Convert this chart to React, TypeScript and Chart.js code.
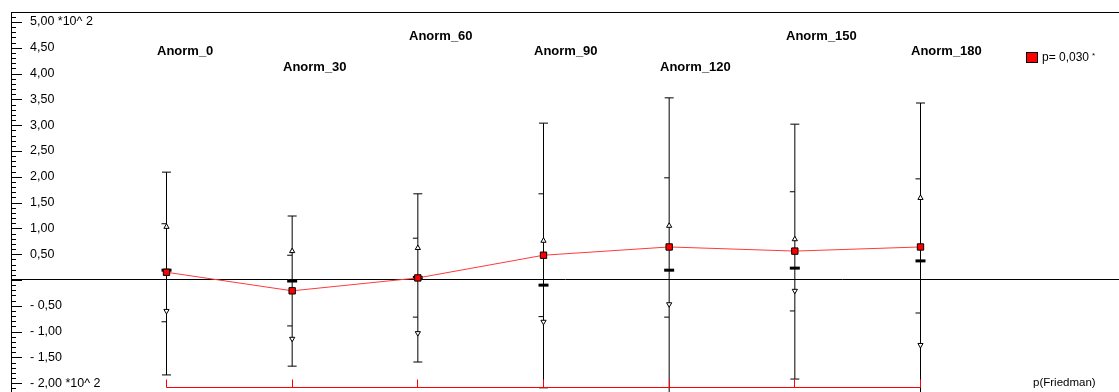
import React, { useEffect, useRef } from 'react';
import { Chart, registerables } from 'chart.js';

Chart.register(...registerables);

// ---- data (values in units of 10^2) ----
const categories = ['Anorm_0', 'Anorm_30', 'Anorm_60', 'Anorm_90', 'Anorm_120', 'Anorm_150', 'Anorm_180'];
const meanValues = [0.15, -0.21, 0.04, 0.48, 0.64, 0.56, 0.64];
const medianValues = [0.19, -0.02, 0.05, -0.1, 0.19, 0.23, 0.37];
const upperQuartile = [1.03, 0.56, 0.62, 0.76, 1.05, 0.79, 1.59];
const lowerQuartile = [-0.6, -1.14, -1.03, -0.81, -0.47, -0.21, -1.26];
const sdHigh = [1.09, 0.48, 0.81, 1.67, 1.98, 1.71, 1.96];
const sdLow = [-0.81, -0.89, -0.72, -0.71, -0.72, -0.6, -0.64];
const maxValues = [2.09, 1.24, 1.67, 3.04, 3.53, 3.02, 3.43];
const minValues = [-1.84, -1.67, -1.59, -2.09, -2.35, -1.92, -2.35];

const yTickValues = [-2, -1.5, -1, -0.5, 0, 0.5, 1, 1.5, 2, 2.5, 3, 3.5, 4, 4.5, 5];
const yTickLabels = ['- 2,00 *10^ 2', '- 1,50', '- 1,00', '- 0,50', '', '0,50', '1,00', '1,50', '2,00', '2,50', '3,00', '3,50', '4,00', '4,50', '5,00 *10^ 2'];
const legendLabel = 'p= 0,030';
const legendMark = '*';
const testLabel = 'p(Friedman)';

const FONT = '"Liberation Sans", Arial, sans-serif';

const pts = (arr: number[]) => arr.map((v, i) => ({ x: i, y: v }));

const decorPlugin = {
  id: 'decor',
  afterDraw(chart: any) {
    const { ctx, chartArea } = chart;
    const xs = chart.scales.x;
    const ys = chart.scales.y;
    ctx.save();
    // frame top line
    ctx.strokeStyle = '#000';
    ctx.lineWidth = 1;
    ctx.beginPath();
    ctx.moveTo(chartArea.left, chartArea.top + 0.5);
    ctx.lineTo(chartArea.right, chartArea.top + 0.5);
    ctx.stroke();
    // y axis major/minor ticks (pointing inward)
    ctx.beginPath();
    for (let k = -22; k <= 52; k++) {
      const v = k / 10;
      if (v < ys.min || v > ys.max) continue;
      const y = Math.round(ys.getPixelForValue(v)) + 0.5;
      const len = k % 5 === 0 ? 11 : 5;
      ctx.moveTo(chartArea.left, y);
      ctx.lineTo(chartArea.left + len, y);
    }
    ctx.stroke();

    // category labels, staggered
    ctx.fillStyle = '#000';
    ctx.font = `bold 13px ${FONT}`;
    ctx.textAlign = 'left';
    ctx.textBaseline = 'middle';
    categories.forEach((c, i) => {
      const row = (i + 1) % 3;
      ctx.fillText(c, Math.round(xs.getPixelForValue(i)) - 9, chartArea.top + 24 + 15.5 * row);
    });

    // legend
    const lx = chartArea.right - 93;
    ctx.fillStyle = '#ff0000';
    ctx.fillRect(lx, 52, 12, 11);
    ctx.strokeStyle = '#000';
    ctx.strokeRect(lx + 0.5, 52.5, 11, 10);
    ctx.fillStyle = '#000';
    ctx.font = `12px ${FONT}`;
    ctx.fillText(legendLabel, lx + 16, 58);
    const w = ctx.measureText(legendLabel).width;
    ctx.font = `8px ${FONT}`;
    ctx.fillText(legendMark, lx + 16 + w + 3, 56);

    // Friedman bracket
    ctx.strokeStyle = '#ff0000';
    ctx.beginPath();
    const by = chartArea.bottom - 4.5;
    const x0 = Math.floor(xs.getPixelForValue(0)) + 0.5;
    const x6 = Math.floor(xs.getPixelForValue(categories.length - 1)) + 0.5;
    ctx.moveTo(x0, by);
    ctx.lineTo(x6, by);
    categories.forEach((_, i) => {
      const x = Math.floor(xs.getPixelForValue(i)) + 0.5;
      ctx.moveTo(x, by);
      ctx.lineTo(x, by - 8);
    });
    ctx.stroke();
    ctx.fillStyle = '#000';
    ctx.font = `11.5px ${FONT}`;
    ctx.fillText(testLabel, chartArea.right - 86, chartArea.bottom - 9);
    ctx.restore();
  },
};

export default function App() {
  const ref = useRef<HTMLCanvasElement>(null);
  useEffect(() => {
    const pointDs = (data: number[], extra: any) => ({
      type: 'line',
      data: pts(data),
      showLine: false,
      pointBorderColor: '#000',
      pointBackgroundColor: '#000',
      pointBorderWidth: 1,
      ...extra,
    });
    const chart = new Chart(ref.current as HTMLCanvasElement, {
      type: 'line',
      data: {
        datasets: [
          {
            type: 'line',
            label: 'mean',
            data: pts(meanValues),
            borderColor: '#ff3a3a',
            borderWidth: 1,
            tension: 0,
            pointStyle: 'rect',
            pointRadius: 4.5,
            pointBackgroundColor: '#ff0000',
            pointBorderColor: '#000',
            pointBorderWidth: 1,
            order: 0,
          },
          pointDs(medianValues, { label: 'median', pointStyle: 'line', pointRadius: 5, pointBorderWidth: 3, order: 1 }),
          pointDs(upperQuartile, { label: 'q3', pointStyle: 'triangle', pointRadius: 3, pointBackgroundColor: '#fff', order: 2 }),
          pointDs(lowerQuartile, { label: 'q1', pointStyle: 'triangle', pointRotation: 180, pointRadius: 3, pointBackgroundColor: '#fff', order: 2 }),
          pointDs(sdHigh, { label: 'sd+', pointStyle: 'dash', pointRotation: 180, pointRadius: 5, order: 3 }),
          pointDs(sdLow, { label: 'sd-', pointStyle: 'dash', pointRotation: 180, pointRadius: 5, order: 3 }),
          pointDs(maxValues, { label: 'max', pointStyle: 'line', pointRadius: 4.5, order: 4 }),
          pointDs(minValues, { label: 'min', pointStyle: 'line', pointRadius: 4.5, order: 4 }),
          {
            type: 'bar',
            label: 'range',
            data: categories.map((_, i) => ({ x: i, y: [minValues[i], maxValues[i]] })),
            backgroundColor: '#000',
            borderWidth: 0,
            barThickness: 1,
            inflateAmount: 0,
            order: 5,
          } as any,
        ] as any,
      },
      options: {
        animation: false,
        responsive: false,
        devicePixelRatio: 1,
        events: [],
        layout: { autoPadding: false, padding: { left: 11, top: 12, right: 0, bottom: 0 } },
        plugins: { legend: { display: false }, tooltip: { enabled: false } },
        scales: {
          x: {
            type: 'linear',
            display: false,
            offset: false,
            min: -1.2374,
            max: 7.5796,
          },
          y: {
            type: 'linear',
            min: -2.171,
            max: 5.194,
            afterBuildTicks: (scale: any) => {
              scale.ticks = yTickValues.map((v) => ({ value: v }));
            },
            afterFit: (scale: any) => {
              scale.width = 0;
              scale.paddingTop = 0;
              scale.paddingBottom = 0;
            },
            ticks: {
              mirror: true,
              padding: 19,
              color: '#000',
              font: { family: FONT, size: 12.5 },
              callback: (_v: any, i: number) => yTickLabels[i],
            },
            grid: {
              drawTicks: false,
              lineWidth: 1,
              color: (c: any) => (c.tick && c.tick.value === 0 ? '#000' : 'rgba(0,0,0,0)'),
            },
            border: { display: true, color: '#000', width: 1 },
          },
        },
      } as any,
      plugins: [decorPlugin],
    });
    return () => chart.destroy();
  }, []);
  return (
    <div style={{ position: 'fixed', left: 0, top: 0, width: 1119, height: 392, background: '#fff' }}>
      <canvas ref={ref} width={1119} height={392} style={{ display: 'block', width: 1119, height: 392 }} />
    </div>
  );
}
